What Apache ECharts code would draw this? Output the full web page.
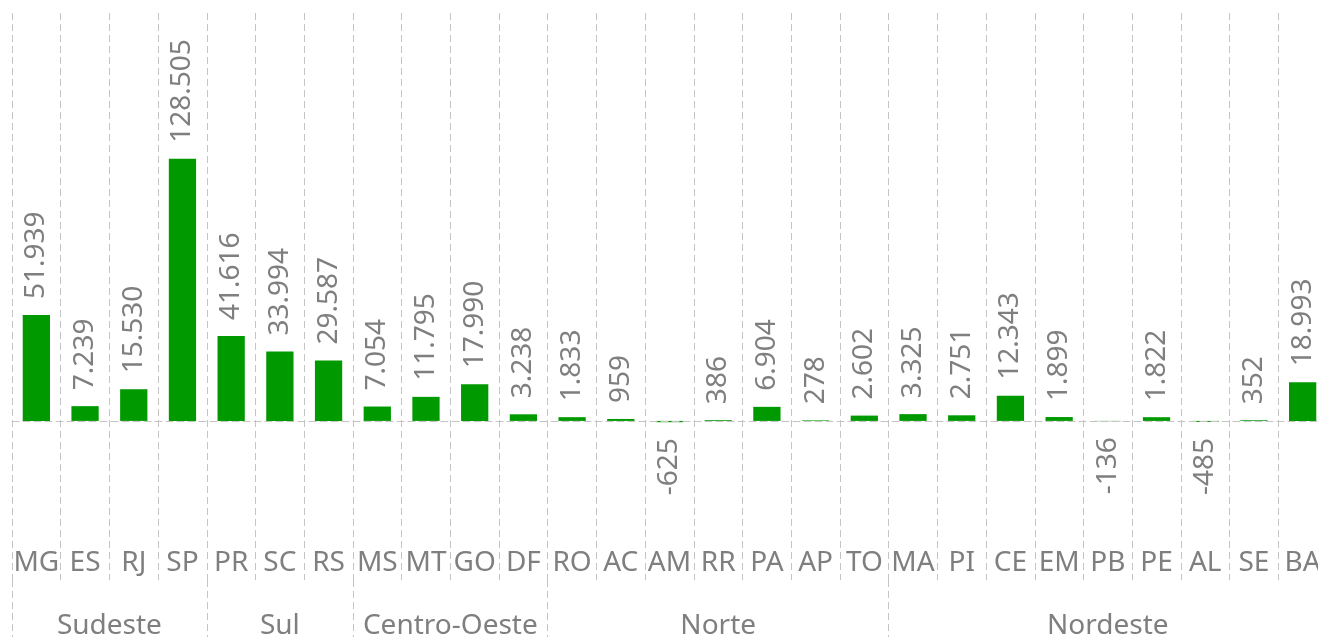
<!DOCTYPE html>
<html>
<head>
<meta charset="utf-8">
<script src="https://cdn.jsdelivr.net/npm/echarts@6/dist/echarts.min.js"></script>
<style>
  html, body { margin: 0; padding: 0; background: #fff; }
  #chart { width: 1318px; height: 637px; }
</style>
</head>
<body>
<div id="chart"></div>
<script>
// estados e saldo
var estados = ['MG', 'ES', 'RJ', 'SP', 'PR', 'SC', 'RS', 'MS', 'MT', 'GO', 'DF', 'RO', 'AC', 'AM', 'RR', 'PA', 'AP', 'TO', 'MA', 'PI', 'CE', 'EM', 'PB', 'PE', 'AL', 'SE', 'BA'];
var saldo = [51939, 7239, 15530, 128505, 41616, 33994, 29587, 7054, 11795, 17990, 3238, 1833, 959, -625, 386, 6904, 278, 2602, 3325, 2751, 12343, 1899, -136, 1822, -485, 352, 18993];

// regioes (quantidade de estados em cada uma)
var regioes = ['Sudeste', 'Sul', 'Centro-Oeste', 'Norte', 'Nordeste'];
var regiaoQtd = [4, 3, 4, 7, 9];

var cinza = '#7f7f7f';
var fonte = '"Noto Sans", sans-serif';

// limites e centros das regioes no eixo de 0..27
var limites = [0];
var centros = [];
var acc = 0;
for (var i = 0; i < regiaoQtd.length; i++) {
    centros.push(acc + regiaoQtd[i] / 2);
    acc += regiaoQtd[i];
    limites.push(acc);
}

function fmt(v) {
    var s = String(Math.abs(v)).replace(/\B(?=(\d{3})+(?!\d))/g, '.');
    return (v < 0 ? '-' : '') + s;
}

var dados = [];
for (var j = 0; j < saldo.length; j++) {
    var item = { value: saldo[j] };
    if (saldo[j] < 0) {
        item.label = { position: 'bottom', align: 'right' };
    }
    dados.push(item);
}

var myChart = echarts.init(document.getElementById('chart'));

var option = {
    animation: false,
    grid: { left: 12, right: -9, top: 13, bottom: 57, outerBoundsMode: 'none', containLabel: false },
    xAxis: [
        {
            type: 'category',
            data: estados,
            axisLine: { onZero: true, lineStyle: { color: '#c4c4c4', type: [7, 4], width: 1 } },
            axisTick: { show: false },
            axisLabel: { show: false },
            splitLine: { show: true, lineStyle: { color: '#c4c4c4', type: [7, 4], width: 1 } },
            z: 5
        },
        {
            type: 'category',
            data: estados,
            position: 'bottom',
            axisLine: { show: false, onZero: false },
            axisTick: { show: false },
            splitLine: { show: false },
            axisLabel: {
                inside: true,
                interval: 0,
                margin: 3,
                color: cinza,
                fontFamily: fonte,
                fontSize: 28
            }
        },
        {
            type: 'value',
            min: 0,
            max: estados.length,
            position: 'bottom',
            axisLine: { show: false, onZero: false },
            splitLine: { show: false },
            axisTick: {
                show: true,
                customValues: limites,
                length: 60,
                lineStyle: { color: '#c4c4c4', type: [7, 4], width: 1 }
            },
            axisLabel: {
                customValues: centros,
                margin: 32,
                color: cinza,
                fontFamily: fonte,
                fontSize: 28,
                formatter: function (v) {
                    var k = centros.indexOf(v);
                    return k >= 0 ? regioes[k] : '';
                }
            }
        }
    ],
    yAxis: {
        type: 'value',
        min: -78000,
        max: 200000,
        show: false,
        splitLine: { show: false }
    },
    series: [
        {
            name: 'Saldo',
            type: 'bar',
            xAxisIndex: 0,
            barCategoryGap: '44%',
            itemStyle: { color: '#009900' },
            label: {
                show: true,
                position: 'top',
                rotate: 90,
                align: 'left',
                verticalAlign: 'middle',
                distance: 16,
                color: cinza,
                fontFamily: fonte,
                fontSize: 28,
                formatter: function (p) { return fmt(p.value); }
            },
            data: dados
        }
    ]
};

myChart.setOption(option, true);
</script>
</body>
</html>
